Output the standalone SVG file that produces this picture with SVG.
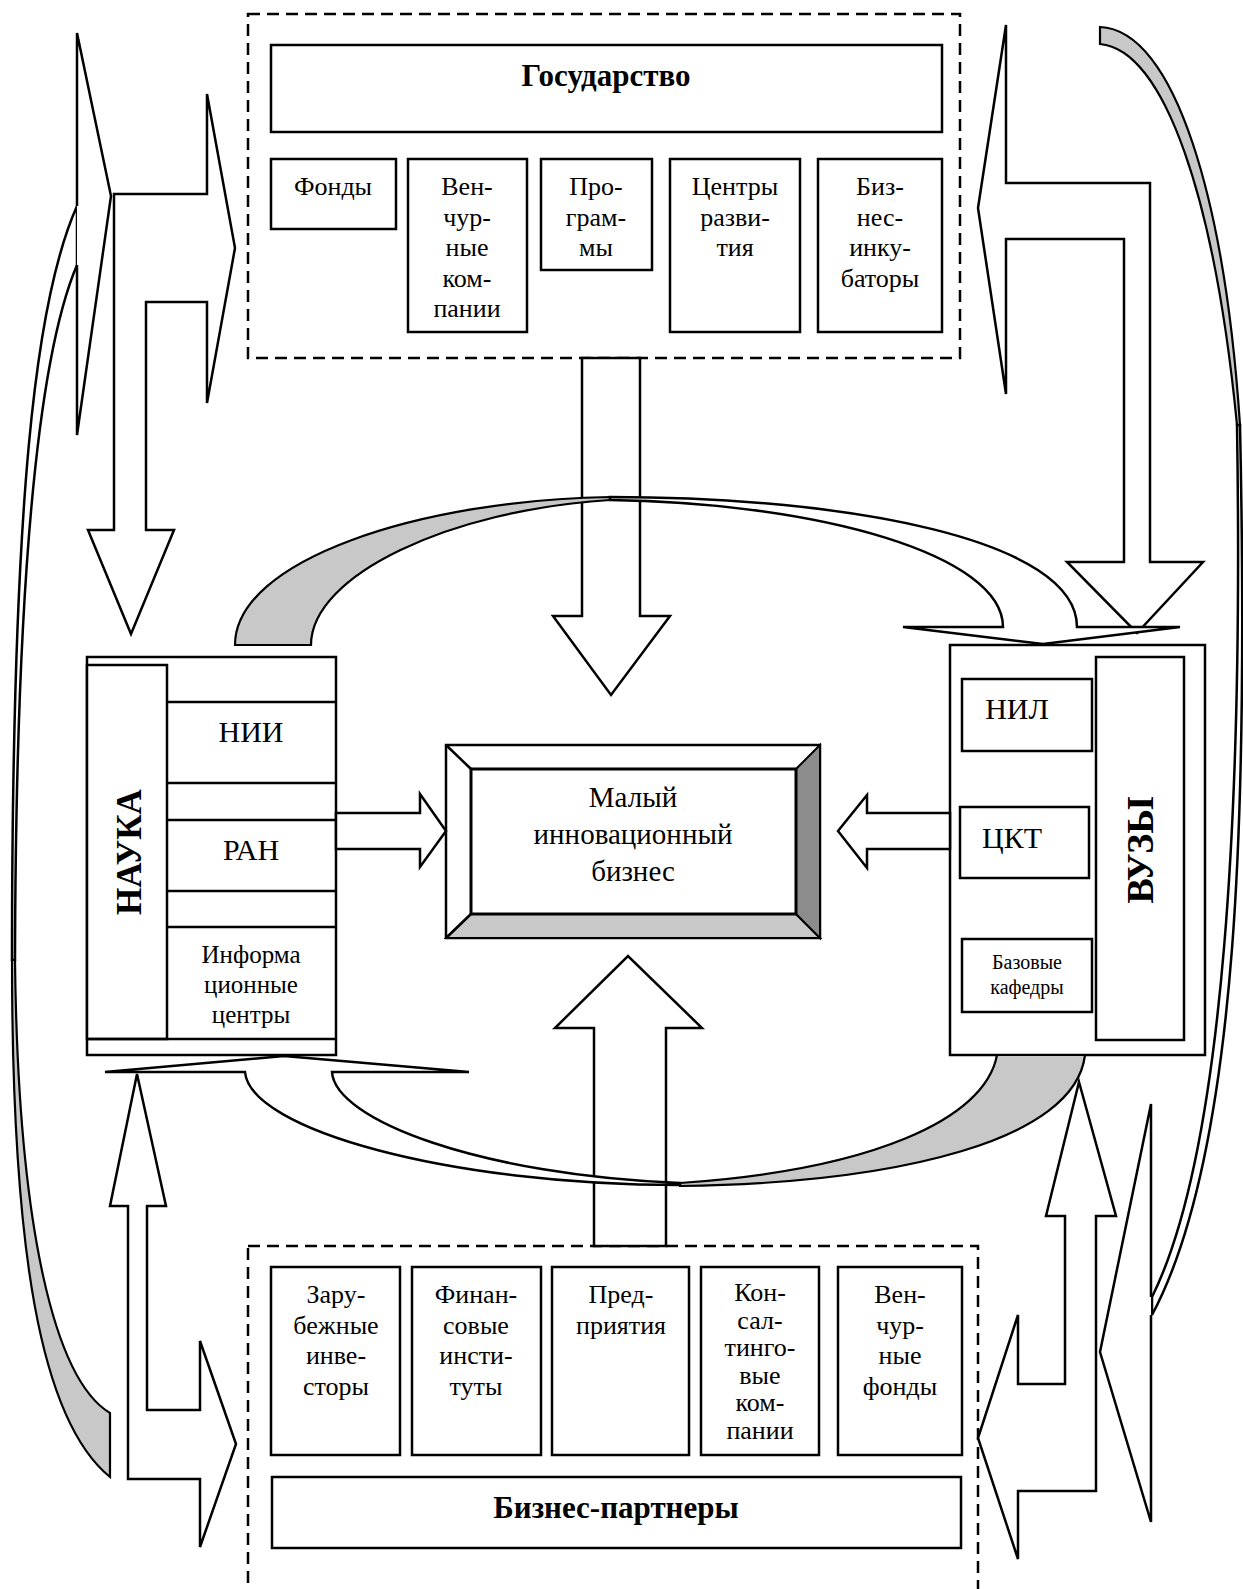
<svg xmlns="http://www.w3.org/2000/svg" width="1243" height="1589" viewBox="0 0 1243 1589">
<style>
.box{fill:#fff;stroke:#000;stroke-width:2.5}
.dash{fill:none;stroke:#000;stroke-width:2.5;stroke-dasharray:12 7}
.arr{fill:#fff;stroke:#000;stroke-width:2.5}
.gray{fill:#c8c8c8;stroke:#000;stroke-width:2.2}
.ln{fill:none;stroke:#000;stroke-width:2.5}
.t{font-family:"Liberation Serif","Times New Roman",serif;font-size:26px;text-anchor:middle;fill:#000}
.b{font-weight:bold;font-size:31px}
.v{font-weight:bold;font-size:35px}
</style>
<rect width="1243" height="1589" fill="#fff"/>

<g id="state">
<rect class="dash" x="248" y="14" width="712" height="344"/>
<rect class="box" x="271" y="45" width="671" height="87"/>
<text class="t b" x="606" y="86">Государство</text>
</g>
<g id="state-funds"><rect class="box" x="271" y="159" width="125" height="70"/><text class="t" x="333" y="195">Фонды</text></g>
<g id="state-venture"><rect class="box" x="408" y="159" width="119" height="173"/>
<text class="t" x="467" y="195">Вен-</text><text class="t" x="467" y="225.5">чур-</text><text class="t" x="467" y="256">ные</text><text class="t" x="467" y="286.5">ком-</text><text class="t" x="467" y="317">пании</text></g>
<g id="state-programs"><rect class="box" x="541" y="159" width="111" height="111"/>
<text class="t" x="596" y="195">Про-</text><text class="t" x="596" y="225.5">грам-</text><text class="t" x="596" y="256">мы</text></g>
<g id="state-centers"><rect class="box" x="670" y="159" width="130" height="173"/>
<text class="t" x="735" y="195">Центры</text><text class="t" x="735" y="225.5">разви-</text><text class="t" x="735" y="256">тия</text></g>
<g id="state-incubators"><rect class="box" x="818" y="159" width="124" height="173"/>
<text class="t" x="880" y="195">Биз-</text><text class="t" x="880" y="225.5">нес-</text><text class="t" x="880" y="256">инку-</text><text class="t" x="880" y="286.5">баторы</text></g>

<g id="nauka">
<rect class="box" x="87" y="657" width="249" height="398"/>
<rect class="box" x="87" y="665" width="80" height="374"/>
<line class="ln" x1="167" y1="702" x2="336" y2="702"/>
<line class="ln" x1="167" y1="783" x2="336" y2="783"/>
<line class="ln" x1="167" y1="820" x2="336" y2="820"/>
<line class="ln" x1="167" y1="891" x2="336" y2="891"/>
<line class="ln" x1="167" y1="927" x2="336" y2="927"/>
<line class="ln" x1="87" y1="1039" x2="336" y2="1039"/>
<text class="t v" transform="translate(141,852) rotate(-90)">НАУКА</text>
<text class="t" x="251" y="742" style="font-size:30px">НИИ</text>
<text class="t" x="251" y="860" style="font-size:30px">РАН</text>
<text class="t" x="251" y="963" style="font-size:25px">Информа</text>
<text class="t" x="251" y="993" style="font-size:25px">ционные</text>
<text class="t" x="251" y="1023" style="font-size:25px">центры</text>
</g>

<g id="vuzy">
<rect class="box" x="950" y="645" width="255" height="410"/>
<rect class="box" x="1096" y="657" width="88" height="383"/>
<text class="t v" transform="translate(1153,850) rotate(-90)" style="font-size:38px">ВУЗЫ</text>
<rect class="box" x="962" y="679" width="130" height="72"/>
<text class="t" x="1017" y="719" style="font-size:30px">НИЛ</text>
<rect class="box" x="960" y="807" width="129" height="71"/>
<text class="t" x="1012" y="848" style="font-size:30px">ЦКТ</text>
<rect class="box" x="962" y="939" width="130" height="73"/>
<text class="t" x="1027" y="969" style="font-size:20px">Базовые</text>
<text class="t" x="1027" y="994" style="font-size:20px">кафедры</text>
</g>

<g id="small-business">
<rect class="box" x="446" y="745" width="374" height="193"/>
<polygon points="446,938 820,938 796,914 471,914" fill="#c8c8c8" stroke="#000" stroke-width="2"/>
<polygon points="820,745 820,938 796,914 796,769" fill="#8c8c8c" stroke="#000" stroke-width="2"/>
<line class="ln" x1="446" y1="745" x2="471" y2="769"/>
<line class="ln" x1="446" y1="938" x2="471" y2="914"/>
<rect x="471" y="769" width="325" height="145" fill="#fff" stroke="#000" stroke-width="3"/>
<text class="t" x="633" y="807" style="font-size:29px">Малый</text>
<text class="t" x="633" y="844" style="font-size:29px">инновационный</text>
<text class="t" x="633" y="881" style="font-size:29px">бизнес</text>
</g>

<g id="partners">
<rect class="dash" x="248" y="1246" width="730" height="360"/>
<rect class="box" x="272" y="1477" width="689" height="71"/>
<text class="t b" x="616" y="1518">Бизнес-партнеры</text>
</g>
<g id="partners-foreign"><rect class="box" x="271" y="1267" width="129" height="188"/>
<text class="t" x="336" y="1303">Зару-</text><text class="t" x="336" y="1334">бежные</text><text class="t" x="336" y="1364">инве-</text><text class="t" x="336" y="1395">сторы</text></g>
<g id="partners-finance"><rect class="box" x="412" y="1267" width="129" height="188"/>
<text class="t" x="476" y="1303">Финан-</text><text class="t" x="476" y="1334">совые</text><text class="t" x="476" y="1364">инсти-</text><text class="t" x="476" y="1395">туты</text></g>
<g id="partners-enterprises"><rect class="box" x="552" y="1267" width="137" height="188"/>
<text class="t" x="621" y="1303">Пред-</text><text class="t" x="621" y="1334">приятия</text></g>
<g id="partners-consulting"><rect class="box" x="701" y="1267" width="118" height="188"/>
<text class="t" x="760" y="1301">Кон-</text><text class="t" x="760" y="1328.5">сал-</text><text class="t" x="760" y="1356">тинго-</text><text class="t" x="760" y="1383.5">вые</text><text class="t" x="760" y="1411">ком-</text><text class="t" x="760" y="1438.5">пании</text></g>
<g id="partners-venture"><rect class="box" x="838" y="1267" width="124" height="188"/>
<text class="t" x="900" y="1303">Вен-</text><text class="t" x="900" y="1334">чур-</text><text class="t" x="900" y="1364">ные</text><text class="t" x="900" y="1395">фонды</text></g>

<g id="connectors">
<polygon class="arr" points="131,634 88,530 114,530 114,194 207,194 207,94 235,248 207,403 207,302 146,302 146,530 174,530"/>
<polygon class="arr" points="978,208 1006,25 1006,183 1150,183 1150,562 1203,562 1137,633 1067,562 1124,562 1124,239 1006,239 1006,394"/>
<polygon class="arr" points="137,1074 166,1206 147,1206 147,1410 200,1410 200,1341 236,1444 200,1547 200,1479 128,1479 128,1206 110,1206"/>
<polygon class="arr" points="1079,1082 1116,1216 1096,1216 1096,1491 1018,1491 1018,1559 978,1438 1018,1315 1018,1384 1065,1384 1065,1216 1046,1216"/>
<polygon class="arr" points="582,358 582,616 553,616 611,695 670,616 640,616 640,358"/>
<polygon class="arr" points="594,1246 594,1028 555,1028 628,956 702,1028 666,1028 666,1246"/>
<polygon class="arr" points="336,813 420,813 420,794 446,831 420,867 420,849 336,849"/>
<polygon class="arr" points="950,813 867,813 867,795 838,831 867,868 867,849 950,849"/>

<path class="gray" d="M235,645 C235,560 420,500 610,497 L610,500 C450,510 311,575 311,645 Z"/>
<path class="arr" d="M610,497 C850,497 1077,540 1077,627 L1180,627 L1043,644 L903,627 L1003,627 C1003,555 820,503 610,500 Z"/>

<path class="gray" d="M997,1055 L1085,1055 C1075,1140 900,1183 680,1186 L680,1183 C870,1170 985,1120 997,1055 Z"/>
<path class="arr" d="M680,1185 C450,1185 250,1130 245,1072 L105,1072 L284,1056 L469,1072 L332,1072 C335,1120 480,1175 680,1183 Z"/>

<path class="arr" d="M77,206 C35,300 12,500 12,960 L15,960 C16,520 45,340 77,265 Z"/>
<path class="arr" d="M77,206 L77,33 L111,196 L77,435 L77,265"/>
<path class="gray" d="M12,960 C12,1250 40,1420 110,1477 L110,1413 C55,1380 18,1230 15,960 Z"/>

<path class="gray" d="M1100,27 C1175,30 1225,200 1240,425 L1237,425 C1215,200 1165,50 1100,44 Z"/>
<path class="arr" d="M1240,425 C1248,800 1240,1150 1152,1315 L1152,1297 C1225,1150 1243,800 1237,425 Z"/>
<path class="arr" d="M1151,1297 L1151,1104 L1100,1352 L1151,1522 L1151,1315"/>
</g>
</svg>
